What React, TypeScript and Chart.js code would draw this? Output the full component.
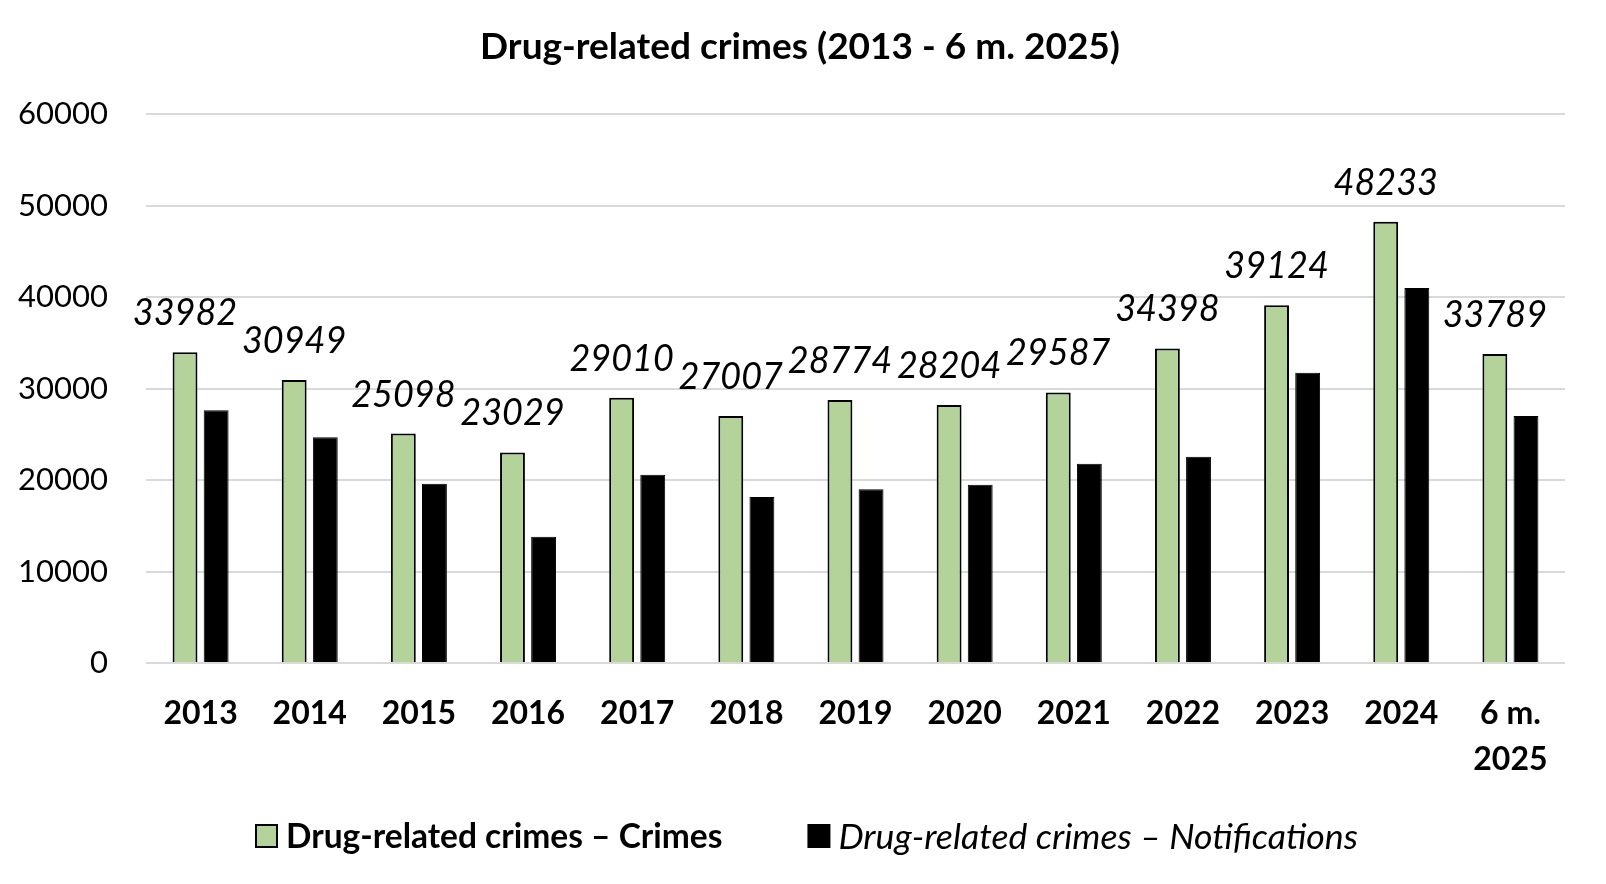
import React, { useEffect, useRef } from "react";
import { Chart, registerables } from "chart.js";

Chart.register(...registerables);

const categories: (string | string[])[] = ["2013", "2014", "2015", "2016", "2017", "2018", "2019", "2020", "2021", "2022", "2023", "2024", ["6 m.", "2025"]];
const crimes = [33982, 30949, 25098, 23029, 29010, 27007, 28774, 28204, 29587, 34398, 39124, 48233, 33789];
const notifications = [27650, 24700, 19600, 13800, 20580, 18160, 19000, 19500, 21800, 22550, 31750, 41000, 27000];
const yTicks = [0, 10000, 20000, 30000, 40000, 50000, 60000];
const titleText = "Drug-related crimes (2013 - 6 m. 2025)";
const seriesNames = ["Drug-related crimes \u2013 Crimes", "Drug-related crimes \u2013 Notifications"];

const FONT = "Lato, 'Noto Sans', sans-serif";
const GREEN = "#b3d39a";

const labelPlugin = {
  id: "valueLabels",
  afterDatasetsDraw(chart: any) {
    const ctx = chart.ctx;
    const meta = chart.getDatasetMeta(0);
    ctx.save();
    ctx.font = `italic 36px ${FONT}`;
    ctx.fillStyle = "#000";
    ctx.textAlign = "center";
    ctx.textBaseline = "alphabetic";
    meta.data.forEach((bar: any, i: number) => {
      ctx.fillText(String(crimes[i]), bar.x, bar.y - 27);
    });
    ctx.restore();
  },
};

const titlePlugin = {
  id: "centeredTitle",
  afterDraw(chart: any) {
    const ctx = chart.ctx;
    ctx.save();
    ctx.font = `bold 37px ${FONT}`;
    ctx.fillStyle = "#000";
    ctx.textAlign = "center";
    ctx.textBaseline = "middle";
    ctx.fillText(titleText, chart.width / 2 - 3, 47);
    ctx.restore();
  },
};

const legendPlugin = {
  id: "customLegend",
  afterDraw(chart: any) {
    const ctx = chart.ctx;
    ctx.save();
    const y = 836;
    let x = 256;
    const items = [
      { name: seriesNames[0], fill: GREEN, font: `bold 33.5px ${FONT}` },
      { name: seriesNames[1], fill: "#000", font: `italic 35.7px ${FONT}` },
    ];
    items.forEach((it) => {
      ctx.fillStyle = it.fill;
      ctx.fillRect(x, y - 11, 21, 22);
      ctx.strokeStyle = "#000";
      ctx.lineWidth = 2;
      ctx.strokeRect(x, y - 11, 21, 22);
      ctx.font = it.font;
      ctx.fillStyle = "#000";
      ctx.textAlign = "left";
      ctx.textBaseline = "middle";
      ctx.fillText(it.name, x + 30, y + 1);
      const w = ctx.measureText(it.name).width;
      x = x + 30 + w + 86;
    });
    ctx.restore();
  },
};

export default function App() {
  const ref = useRef<HTMLCanvasElement | null>(null);
  useEffect(() => {
    document.body.style.margin = "0";
    if (!ref.current) return;
    const chart = new Chart(ref.current, {
      type: "bar",
      data: {
        labels: categories,
        datasets: [
          {
            label: seriesNames[0],
            data: crimes,
            backgroundColor: GREEN,
            borderColor: "#000",
            borderWidth: 2,
            barPercentage: 0.8,
            categoryPercentage: 0.57,
          },
          {
            label: seriesNames[1],
            data: notifications,
            backgroundColor: "#000",
            borderColor: "#000",
            borderWidth: 1,
            barPercentage: 0.8,
            categoryPercentage: 0.57,
          },
        ],
      },
      options: {
        animation: false,
        responsive: false,
        devicePixelRatio: 1,
        layout: { padding: { left: 0, right: 41, top: 0, bottom: 82 } },
        plugins: {
          legend: { display: false },
          tooltip: { enabled: false },
          title: {
            display: true,
            text: titleText,
            color: "rgba(0,0,0,0)",
            font: { family: FONT, size: 36, weight: "bold" },
            padding: { top: 26, bottom: 45 },
          },
        },
        scales: {
          x: {
            grid: { display: false },
            border: { display: false },
            ticks: {
              color: "#000",
              font: { family: FONT, size: 32, weight: "bold", lineHeight: 1.42 },
              padding: 20,
              maxRotation: 0,
              autoSkip: false,
            },
          },
          y: {
            min: 0,
            max: 60000,
            afterFit: (scale: any) => {
              scale.width = 146;
            },
            afterBuildTicks: (scale: any) => {
              scale.ticks = yTicks.map((v) => ({ value: v }));
            },
            grid: { color: "#d9d9d9", lineWidth: 2, drawTicks: false },
            border: { display: false },
            ticks: {
              color: "#000",
              font: { family: FONT, size: 31 },
              padding: 38,
              callback: (v: any) => String(v),
            },
          },
        },
      },
      plugins: [labelPlugin, titlePlugin, legendPlugin],
    });
    return () => chart.destroy();
  }, []);
  return <canvas ref={ref} width={1606} height={884} style={{ display: "block" }} />;
}
